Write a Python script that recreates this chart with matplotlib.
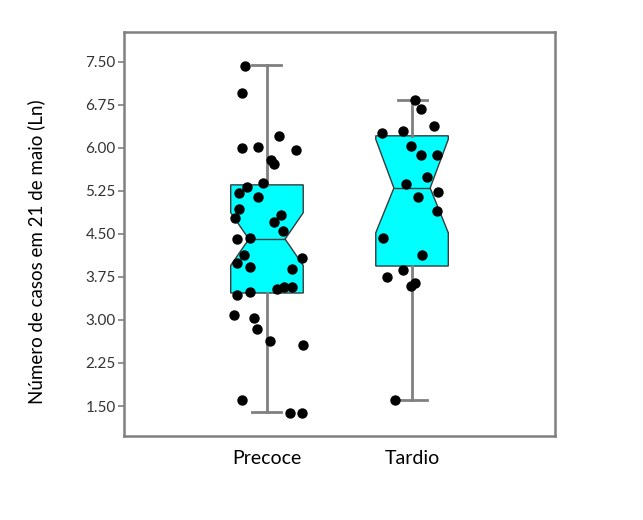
import matplotlib.pyplot as plt

plt.rcParams['font.family'] = ['Lato', 'DejaVu Sans']

groups = ["Precoce", "Tardio"]

# box statistics
medians = [4.41, 5.30]
q1s = [3.47, 3.94]
q3s = [5.355, 6.21]
whis_lo = [1.395, 1.60]
whis_hi = [7.45, 6.84]
ci_lo = [3.95, 4.52]
ci_hi = [4.87, 6.15]

# individual points (x offset from group centre, value)
precoce_dx = [-0.15, -0.17, 0.08, -0.17, -0.06, 0.20, 0.03, 0.05, -0.03, -0.14,
              -0.19, -0.06, -0.19, -0.22, 0.10, 0.05, 0.11, -0.21, -0.12,
              -0.16, 0.24, -0.21, -0.12, 0.17, -0.21, -0.12, 0.07, 0.12, 0.17,
              -0.23, -0.09, -0.07, 0.02, 0.25, -0.17, 0.16, 0.24]
precoce_y = [7.43, 6.96, 6.21, 6.00, 6.02, 5.97, 5.79, 5.72, 5.39, 5.32,
             5.22, 5.15, 4.94, 4.78, 4.83, 4.71, 4.55, 4.41, 4.43,
             4.13, 4.08, 3.99, 3.92, 3.89, 3.44, 3.49, 3.54, 3.58, 3.58,
             3.09, 3.04, 2.84, 2.63, 2.56, 1.60, 1.38, 1.38]

tardio_dx = [0.02, 0.06, 0.15, -0.21, -0.06, -0.01, 0.06, 0.17, 0.10, -0.04,
             0.18, 0.04, 0.17, -0.20, 0.07, -0.06, -0.17, -0.01, 0.02, -0.12]
tardio_y = [6.84, 6.68, 6.38, 6.26, 6.30, 6.04, 5.88, 5.88, 5.49, 5.37,
            5.23, 5.15, 4.90, 4.43, 4.13, 3.87, 3.75, 3.59, 3.65, 1.60]

fig = plt.figure(figsize=(6.43, 5.2), dpi=100)
ax = fig.add_axes([0.193, 0.1615, 0.67, 0.777])

stats = []
for i, g in enumerate(groups):
    stats.append({"label": g, "med": medians[i], "q1": q1s[i], "q3": q3s[i],
                  "whislo": whis_lo[i], "whishi": whis_hi[i],
                  "cilo": ci_lo[i], "cihi": ci_hi[i], "fliers": []})

ax.bxp(stats, positions=[1, 2], widths=0.5, shownotches=True, patch_artist=True,
       showfliers=False, capwidths=0.2,
       boxprops=dict(facecolor="#00FFFF", edgecolor="#3a3a3a", linewidth=1.0),
       medianprops=dict(color="#3a3a3a", linewidth=1.0),
       whiskerprops=dict(color="#808080", linewidth=2),
       capprops=dict(color="#808080", linewidth=2),
       zorder=2)

ax.scatter([1 + d for d in precoce_dx], precoce_y, s=42, color="black", zorder=3)
ax.scatter([2 + d for d in tardio_dx], tardio_y, s=42, color="black", zorder=3)

ax.set_xlim(0.015, 2.985)
ax.set_ylim(0.977, 8.02)
ticks = [1.5, 2.25, 3.0, 3.75, 4.5, 5.25, 6.0, 6.75, 7.5]
ax.set_yticks(ticks)
ax.set_yticklabels(["%.2f" % t for t in ticks], fontsize=11, color="#333333")
ax.set_xticks([1, 2])
ax.set_xticklabels(groups, fontsize=14)
ax.tick_params(axis="x", length=0, pad=10)
ax.tick_params(axis="y", length=4, width=1.2, color="#808080", pad=2)
for sp in ax.spines.values():
    sp.set_color("#808080")
    sp.set_linewidth(1.8)

ax.set_ylabel("Número de casos em 21 de maio (Ln)", fontsize=13.5)
ax.yaxis.set_label_coords(-0.183, 0.455)

fig.savefig("out.png", dpi=100)
